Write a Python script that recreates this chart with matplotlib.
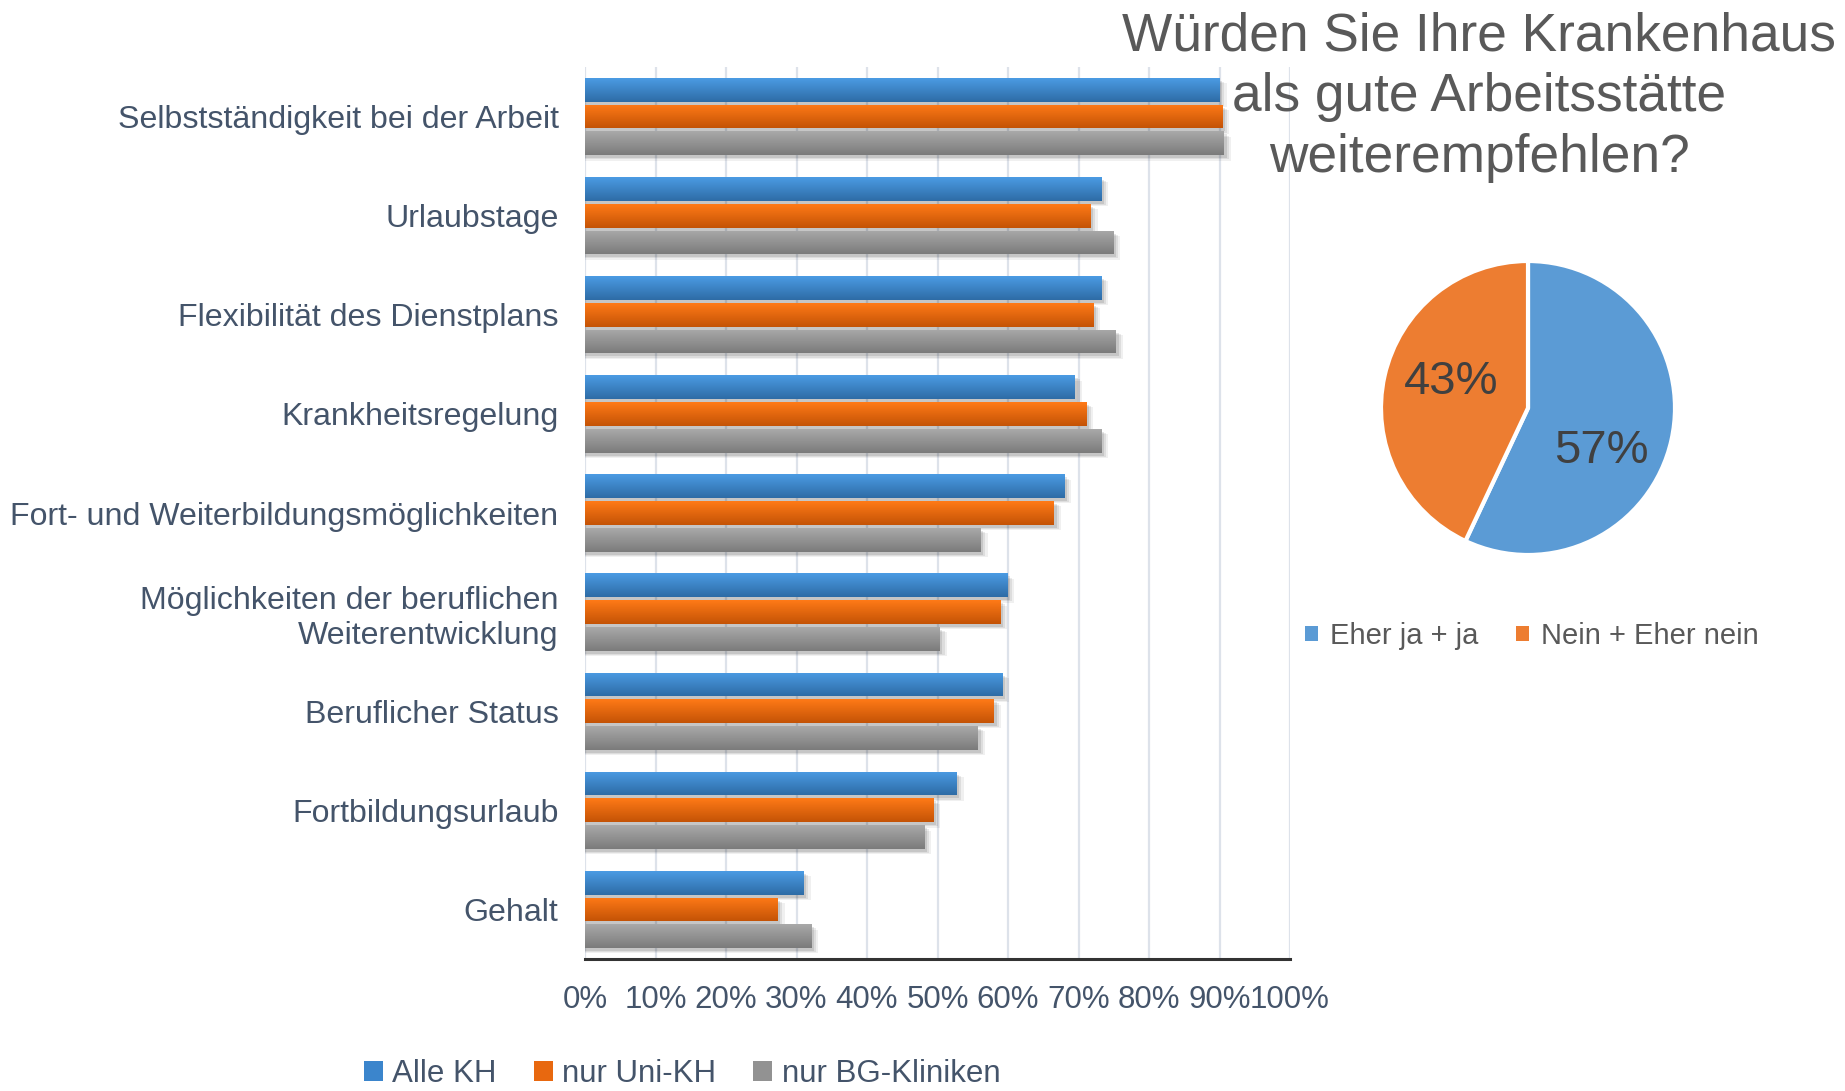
import numpy as np
import matplotlib
matplotlib.use("Agg")
import matplotlib.pyplot as plt
from matplotlib.patches import Patch, Rectangle
from matplotlib.colors import LinearSegmentedColormap

plt.rcParams['font.family'] = ['Liberation Sans', 'DejaVu Sans']

categories = [
    "Selbstständigkeit bei der Arbeit",
    "Urlaubstage",
    "Flexibilität des Dienstplans",
    "Krankheitsregelung",
    "Fort- und Weiterbildungsmöglichkeiten",
    "Möglichkeiten der beruflichen\nWeiterentwicklung",
    "Beruflicher Status",
    "Fortbildungsurlaub",
    "Gehalt",
]
alle_kh = [0.900, 0.732, 0.732, 0.695, 0.680, 0.599, 0.592, 0.527, 0.310]
uni_kh = [0.904, 0.717, 0.721, 0.711, 0.665, 0.589, 0.580, 0.494, 0.273]
bg_kliniken = [0.906, 0.749, 0.753, 0.732, 0.561, 0.503, 0.557, 0.481, 0.321]
series_names = ["Alle KH", "nur Uni-KH", "nur BG-Kliniken"]
xtick_labels = ["0%", "10%", "20%", "30%", "40%", "50%", "60%", "70%", "80%", "90%", "100%"]

pie_labels = ["Eher ja + ja", "Nein + Eher nein"]
pie_values = [57, 43]
pie_title = "Würden Sie Ihre Krankenhaus\nals gute Arbeitsstätte\nweiterempfehlen?"

grad_colors = [("#4B9BE3", "#2E6CA6"), ("#FF7A17", "#C45306"), ("#A9A9A9", "#7B7B7B")]
mid_colors = ["#3B85CC", "#E8680F", "#929292"]
pie_colors = ["#5B9BD5", "#ED7D31"]

slate = "#44546A"

fig = plt.figure(figsize=(18.45, 10.91), dpi=100)
ax = fig.add_axes([585/1845, 132/1091, 705/1845, 892/1091])

n = len(categories)
ypos = np.arange(n)[::-1]
bh = 0.24
offs = [0.27, 0.0, -0.27]
series = [alle_kh, uni_kh, bg_kliniken]

ax.set_xlim(0, 1.0)
ax.set_ylim(-0.5, n - 0.5)

for s, vals in enumerate(series):
    cmap = LinearSegmentedColormap.from_list("g%d" % s, [grad_colors[s][1], grad_colors[s][0]])
    grad = np.linspace(0, 1, 64).reshape(-1, 1)
    bars = ax.barh(ypos + offs[s], vals, height=bh, color=mid_colors[s], zorder=3)
    for b in bars:
        x0, y0 = b.get_x(), b.get_y()
        w, h = b.get_width(), b.get_height()
        # soft shadow
        for k, a in enumerate([0.10, 0.08, 0.06]):
            d = 0.004 + k * 0.003
            ax.add_patch(Rectangle((x0, y0 - 0.03 - k * 0.012), w + d, h, color="#000000",
                                   alpha=a, lw=0, zorder=2))
        im = ax.imshow(grad, extent=[x0, x0 + w, y0, y0 + h], origin="lower",
                       aspect="auto", cmap=cmap, zorder=4)
        im.set_clip_path(b)

ax.set_xlim(0, 1.0)
ax.set_ylim(-0.5, n - 0.5)
ax.set_xticks(np.linspace(0, 1, 11))
ax.set_xticklabels(xtick_labels, fontsize=22.5, color=slate)
ax.set_yticks(ypos)
ax.set_yticklabels(categories, fontsize=23.1, color=slate, linespacing=1.25)
ax.tick_params(axis='y', length=0, pad=19)
ax.tick_params(axis='x', length=0, pad=19)
ax.grid(axis='x', color="#DDE2EA", lw=1.6, zorder=0)
ax.set_axisbelow(True)
for sp in ["top", "right", "left"]:
    ax.spines[sp].set_visible(False)
ax.spines["bottom"].set_color("#333333")
ax.spines["bottom"].set_linewidth(2.2)

handles = [Patch(facecolor=mid_colors[i], edgecolor="none") for i in range(3)]
fig.legend(handles, series_names, loc="center", ncol=3, frameon=False,
           bbox_to_anchor=(682/1845, 17/1091), fontsize=22.5, labelcolor=slate,
           handlelength=0.6, handleheight=0.6, handletextpad=0.3, columnspacing=1.2,
           borderpad=0.1)

# Pie
pax = fig.add_axes([1381/1845, (1091-555)/1091, 294/1845, 294/1091])
wedges, _ = pax.pie(pie_values, colors=pie_colors, startangle=90, counterclock=False,
                    radius=1.0, wedgeprops=dict(edgecolor="white", linewidth=3))
pax.set_xlim(-1.0, 1.0)
pax.set_ylim(-1.0, 1.0)
pax.set_aspect("equal")
pax.text(0.50, -0.29, "57%", fontsize=34, color="#404040", ha="center", va="center")
pax.text(-0.52, 0.18, "43%", fontsize=34, color="#404040", ha="center", va="center")

fig.text(1479/1845, 1 - 97.5/1091, pie_title, fontsize=38.3, color="#595959",
         ha="center", va="center", linespacing=1.27)

ph = [Patch(facecolor=c, edgecolor="none") for c in pie_colors]
fig.legend(ph, pie_labels, loc="center", ncol=2, frameon=False,
           bbox_to_anchor=(1532/1845, (1091-636)/1091), fontsize=21, labelcolor="#595959",
           handlelength=0.45, handleheight=0.45, handletextpad=0.4, columnspacing=1.3)

fig.savefig("out.png", dpi=100)
